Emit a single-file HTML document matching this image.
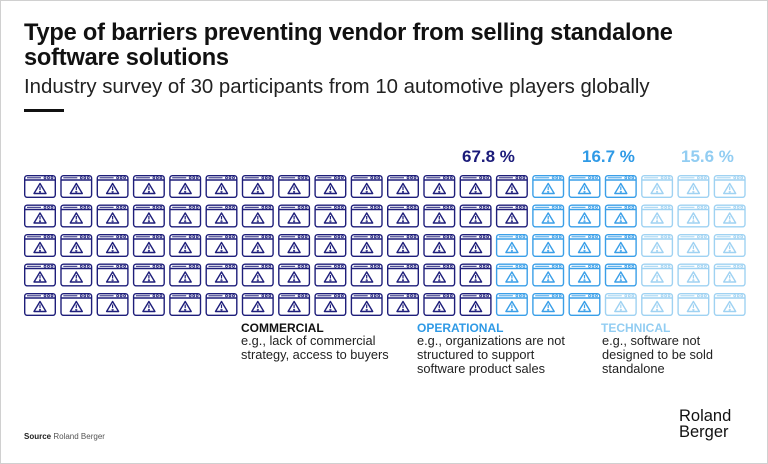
<!DOCTYPE html>
<html><head><meta charset="utf-8"><style>
html,body{margin:0;padding:0;background:#fff}
body{width:768px;height:464px;position:relative;overflow:hidden;font-family:"Liberation Sans",sans-serif}
.frame{position:absolute;left:0;top:0;width:766px;height:462px;border:1px solid #d0d0d0}
.t{position:absolute;white-space:nowrap;color:#111}
</style></head><body>
<div class="frame"></div>
<div class="t" style="left:24px;top:21px;font-size:23.6px;font-weight:bold;line-height:25px;letter-spacing:-0.2px">Type of barriers preventing vendor from selling standalone<br>software solutions</div>
<div class="t" style="left:24px;top:76px;font-size:20.4px;color:#222">Industry survey of 30 participants from 10 automotive players globally</div>
<div style="position:absolute;left:24px;top:109px;width:40px;height:3px;background:#111"></div>
<div class="t" style="left:462px;top:147px;font-size:17px;font-weight:bold;color:#1b1b7a">67.8 %</div>
<div class="t" style="left:582px;top:147px;font-size:17px;font-weight:bold;color:#2f9ae6">16.7 %</div>
<div class="t" style="left:681px;top:147px;font-size:17px;font-weight:bold;color:#92cdf2">15.6 %</div>
<svg id="g" width="768" height="464" style="position:absolute;left:0;top:0"></svg>
<div class="t" style="left:241px;top:321px;font-size:12px;font-weight:bold">COMMERCIAL</div>
<div class="t" style="left:241px;top:334px;font-size:12.8px;line-height:14px;color:#222">e.g., lack of commercial<br>strategy, access to buyers</div>
<div class="t" style="left:417px;top:321px;font-size:12px;font-weight:bold;color:#2f9ae6">OPERATIONAL</div>
<div class="t" style="left:417px;top:334px;font-size:12.8px;line-height:14px;color:#222">e.g., organizations are not<br>structured to support<br>software product sales</div>
<div class="t" style="left:601px;top:321px;font-size:12px;font-weight:bold;color:#92cdf2">TECHNICAL</div>
<div class="t" style="left:602px;top:334px;font-size:12.8px;line-height:14px;color:#222">e.g., software not<br>designed to be sold<br>standalone</div>
<div class="t" style="left:679px;top:408px;font-size:16.5px;line-height:16px;color:#111">Roland<br>Berger</div>
<div class="t" style="left:24px;top:432px;font-size:8px;color:#555"><b style="color:#222">Source</b> Roland Berger</div>
<script>
var s='';
for(var c=0;c<20;c++){for(var r=0;r<5;r++){
 var k=c*5+r, col;
 if(k<67)col='#1e1e7a';else if(k<84)col='#3a9fe8';else col='#9fd2f2';
 var x=24+c*36.3, y=175+r*29.5;
 s+='<g transform="translate('+x.toFixed(1)+','+y+')" fill="none" stroke="'+col+'" stroke-width="1.4">'+
 '<rect x="0.7" y="0.7" width="30.6" height="21.6" rx="2.5"/>'+
 '<line x1="0.7" y1="5" x2="31.3" y2="5"/>'+
 '<line x1="3" y1="2.8" x2="17" y2="2.8" stroke-width="1"/>'+
 '<circle cx="21" cy="2.8" r="1" stroke-width="0.8"/><circle cx="24.5" cy="2.8" r="1" stroke-width="0.8"/><circle cx="28" cy="2.8" r="1" stroke-width="0.8"/>'+
 '<path d="M16 8.5 L22 18.5 L10 18.5 Z" stroke-linejoin="round"/>'+
 '<line x1="16" y1="11.5" x2="16" y2="15" stroke-width="1.2"/><circle cx="16" cy="16.8" r="0.4"/>'+
 '</g>';
}}
document.getElementById('g').innerHTML=s;
</script>
</body></html>
